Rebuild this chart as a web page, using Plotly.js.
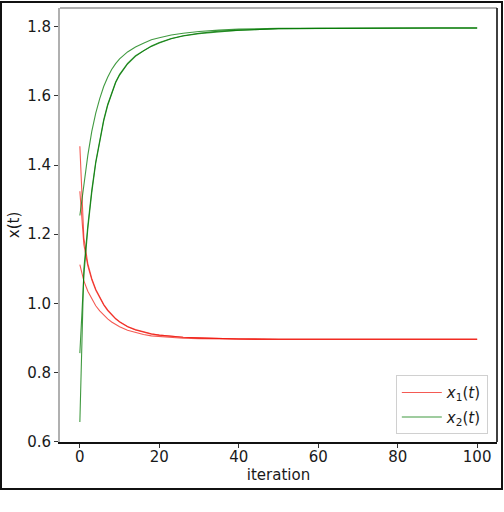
<!DOCTYPE html>
<html>
<head>
<meta charset="utf-8">
<script src="https://cdn.plot.ly/plotly-3.0.1.min.js"></script>
<style>
  body { margin: 0; padding: 0; background: #fff; }
  #wrap { position: relative; width: 504px; height: 512px; }
  #chart { width: 504px; height: 512px; }
  #frame { position: absolute; left: 0; top: 1px; width: 499px; height: 485px;
           border: 2px solid #111; pointer-events: none; }
</style>
</head>
<body>
<div id="wrap">
  <div id="chart"></div>
  <div id="frame"></div>
</div>
<script>
const iterations = [0,1,2,3,4,5,6,7,8,9,10,12,14,16,18,20,23,26,30,35,40,50,60,70,80,90,100];

// x1(t) runs (red)
const x1_runA = [1.454,1.190,1.115,1.072,1.041,1.017,0.997,0.981,0.968,0.956,0.947,0.933,0.924,0.917,0.912,0.908,0.904,0.902,0.900,0.898,0.897,0.896,0.896,0.896,0.896,0.896,0.896];
const x1_runB = [1.324,1.170,1.108,1.068,1.038,1.015,0.995,0.979,0.966,0.955,0.946,0.932,0.923,0.916,0.911,0.908,0.904,0.902,0.900,0.898,0.897,0.896,0.896,0.896,0.896,0.896,0.896];
const x1_runC = [1.112,1.065,1.035,1.012,0.993,0.978,0.965,0.955,0.946,0.939,0.932,0.922,0.915,0.910,0.906,0.904,0.901,0.899,0.898,0.897,0.897,0.896,0.896,0.896,0.896,0.896,0.896];

// x2(t) runs (green)
const x2_runA = [1.254,1.345,1.428,1.497,1.550,1.592,1.627,1.654,1.676,1.693,1.707,1.727,1.741,1.752,1.762,1.768,1.776,1.781,1.786,1.790,1.793,1.795,1.796,1.796,1.796,1.796,1.796];
const x2_runB = [0.856,1.080,1.215,1.320,1.405,1.472,1.527,1.572,1.608,1.638,1.660,1.692,1.714,1.730,1.743,1.753,1.765,1.773,1.780,1.786,1.790,1.794,1.795,1.796,1.796,1.796,1.796];
const x2_runC = [0.657,1.100,1.225,1.328,1.410,1.476,1.531,1.575,1.611,1.640,1.662,1.694,1.716,1.731,1.744,1.754,1.766,1.774,1.781,1.787,1.790,1.794,1.795,1.796,1.796,1.796,1.796];

const xTicks = [0,20,40,60,80,100];
const yTicks = [0.6,0.8,1.0,1.2,1.4,1.6,1.8];

const redLine = {color: 'rgba(240,20,10,0.7)', width: 1.1};
const greenLine = {color: 'rgba(0,120,0,0.75)', width: 1.1};

function tr(y, line, name, show, group) {
  return {x: iterations, y: y, type: 'scatter', mode: 'lines', line: line,
          name: name, showlegend: show, legendgroup: group, hoverinfo: 'skip'};
}

const data = [
  tr(x1_runA, redLine, '<i>x</i><sub>1</sub>(<i>t</i>)', true, 'x1'),
  tr(x1_runB, redLine, 'x1', false, 'x1'),
  tr(x1_runC, redLine, 'x1', false, 'x1'),
  tr(x2_runA, greenLine, '<i>x</i><sub>2</sub>(<i>t</i>)', true, 'x2'),
  tr(x2_runB, greenLine, 'x2', false, 'x2'),
  tr(x2_runC, greenLine, 'x2', false, 'x2')
];

const font = {family: 'DejaVu Sans, sans-serif', size: 15, color: '#1a1a1a'};

const layout = {
  width: 504, height: 512,
  margin: {l: 60, r: 7, t: 8, b: 70},
  paper_bgcolor: '#fff', plot_bgcolor: '#fff',
  font: font,
  showlegend: true,
  legend: {x: 0.979, y: 0.018, xanchor: 'right', yanchor: 'bottom',
           bgcolor: 'rgba(255,255,255,0.9)', bordercolor: '#d0d0d0', borderwidth: 1,
           font: {family: 'DejaVu Sans, sans-serif', size: 15, color: '#1a1a1a'},
           itemwidth: 40, tracegroupgap: 2},
  xaxis: {range: [-5, 105], tickvals: xTicks, ticktext: xTicks.map(String),
          showgrid: false, zeroline: false, showline: true, linecolor: '#111', linewidth: 1.6,
          ticks: 'outside', ticklen: 4, tickcolor: '#333', tickwidth: 1,
          ticklabelstandoff: -4,
          title: {text: 'iteration', font: font, standoff: 2}},
  yaxis: {range: [0.599, 1.854], tickvals: yTicks, ticktext: yTicks.map(v => v.toFixed(1)),
          showgrid: false, zeroline: false, showline: true, linecolor: '#b0b0b0', linewidth: 2,
          ticks: 'outside', ticklen: 4, tickcolor: '#333', tickwidth: 1,
          title: {text: 'x(t)', font: font, standoff: 4}},
  shapes: [
    {type: 'line', xref: 'paper', yref: 'paper', x0: 0, x1: 1, y0: 1, y1: 1,
     line: {color: '#b0b0b0', width: 2}},
    {type: 'line', xref: 'paper', yref: 'paper', x0: 1, x1: 1, y0: 0, y1: 1,
     line: {color: '#111', width: 1.6}}
  ]
};

Plotly.newPlot('chart', data, layout, {staticPlot: true, displayModeBar: false});
</script>
</body>
</html>
